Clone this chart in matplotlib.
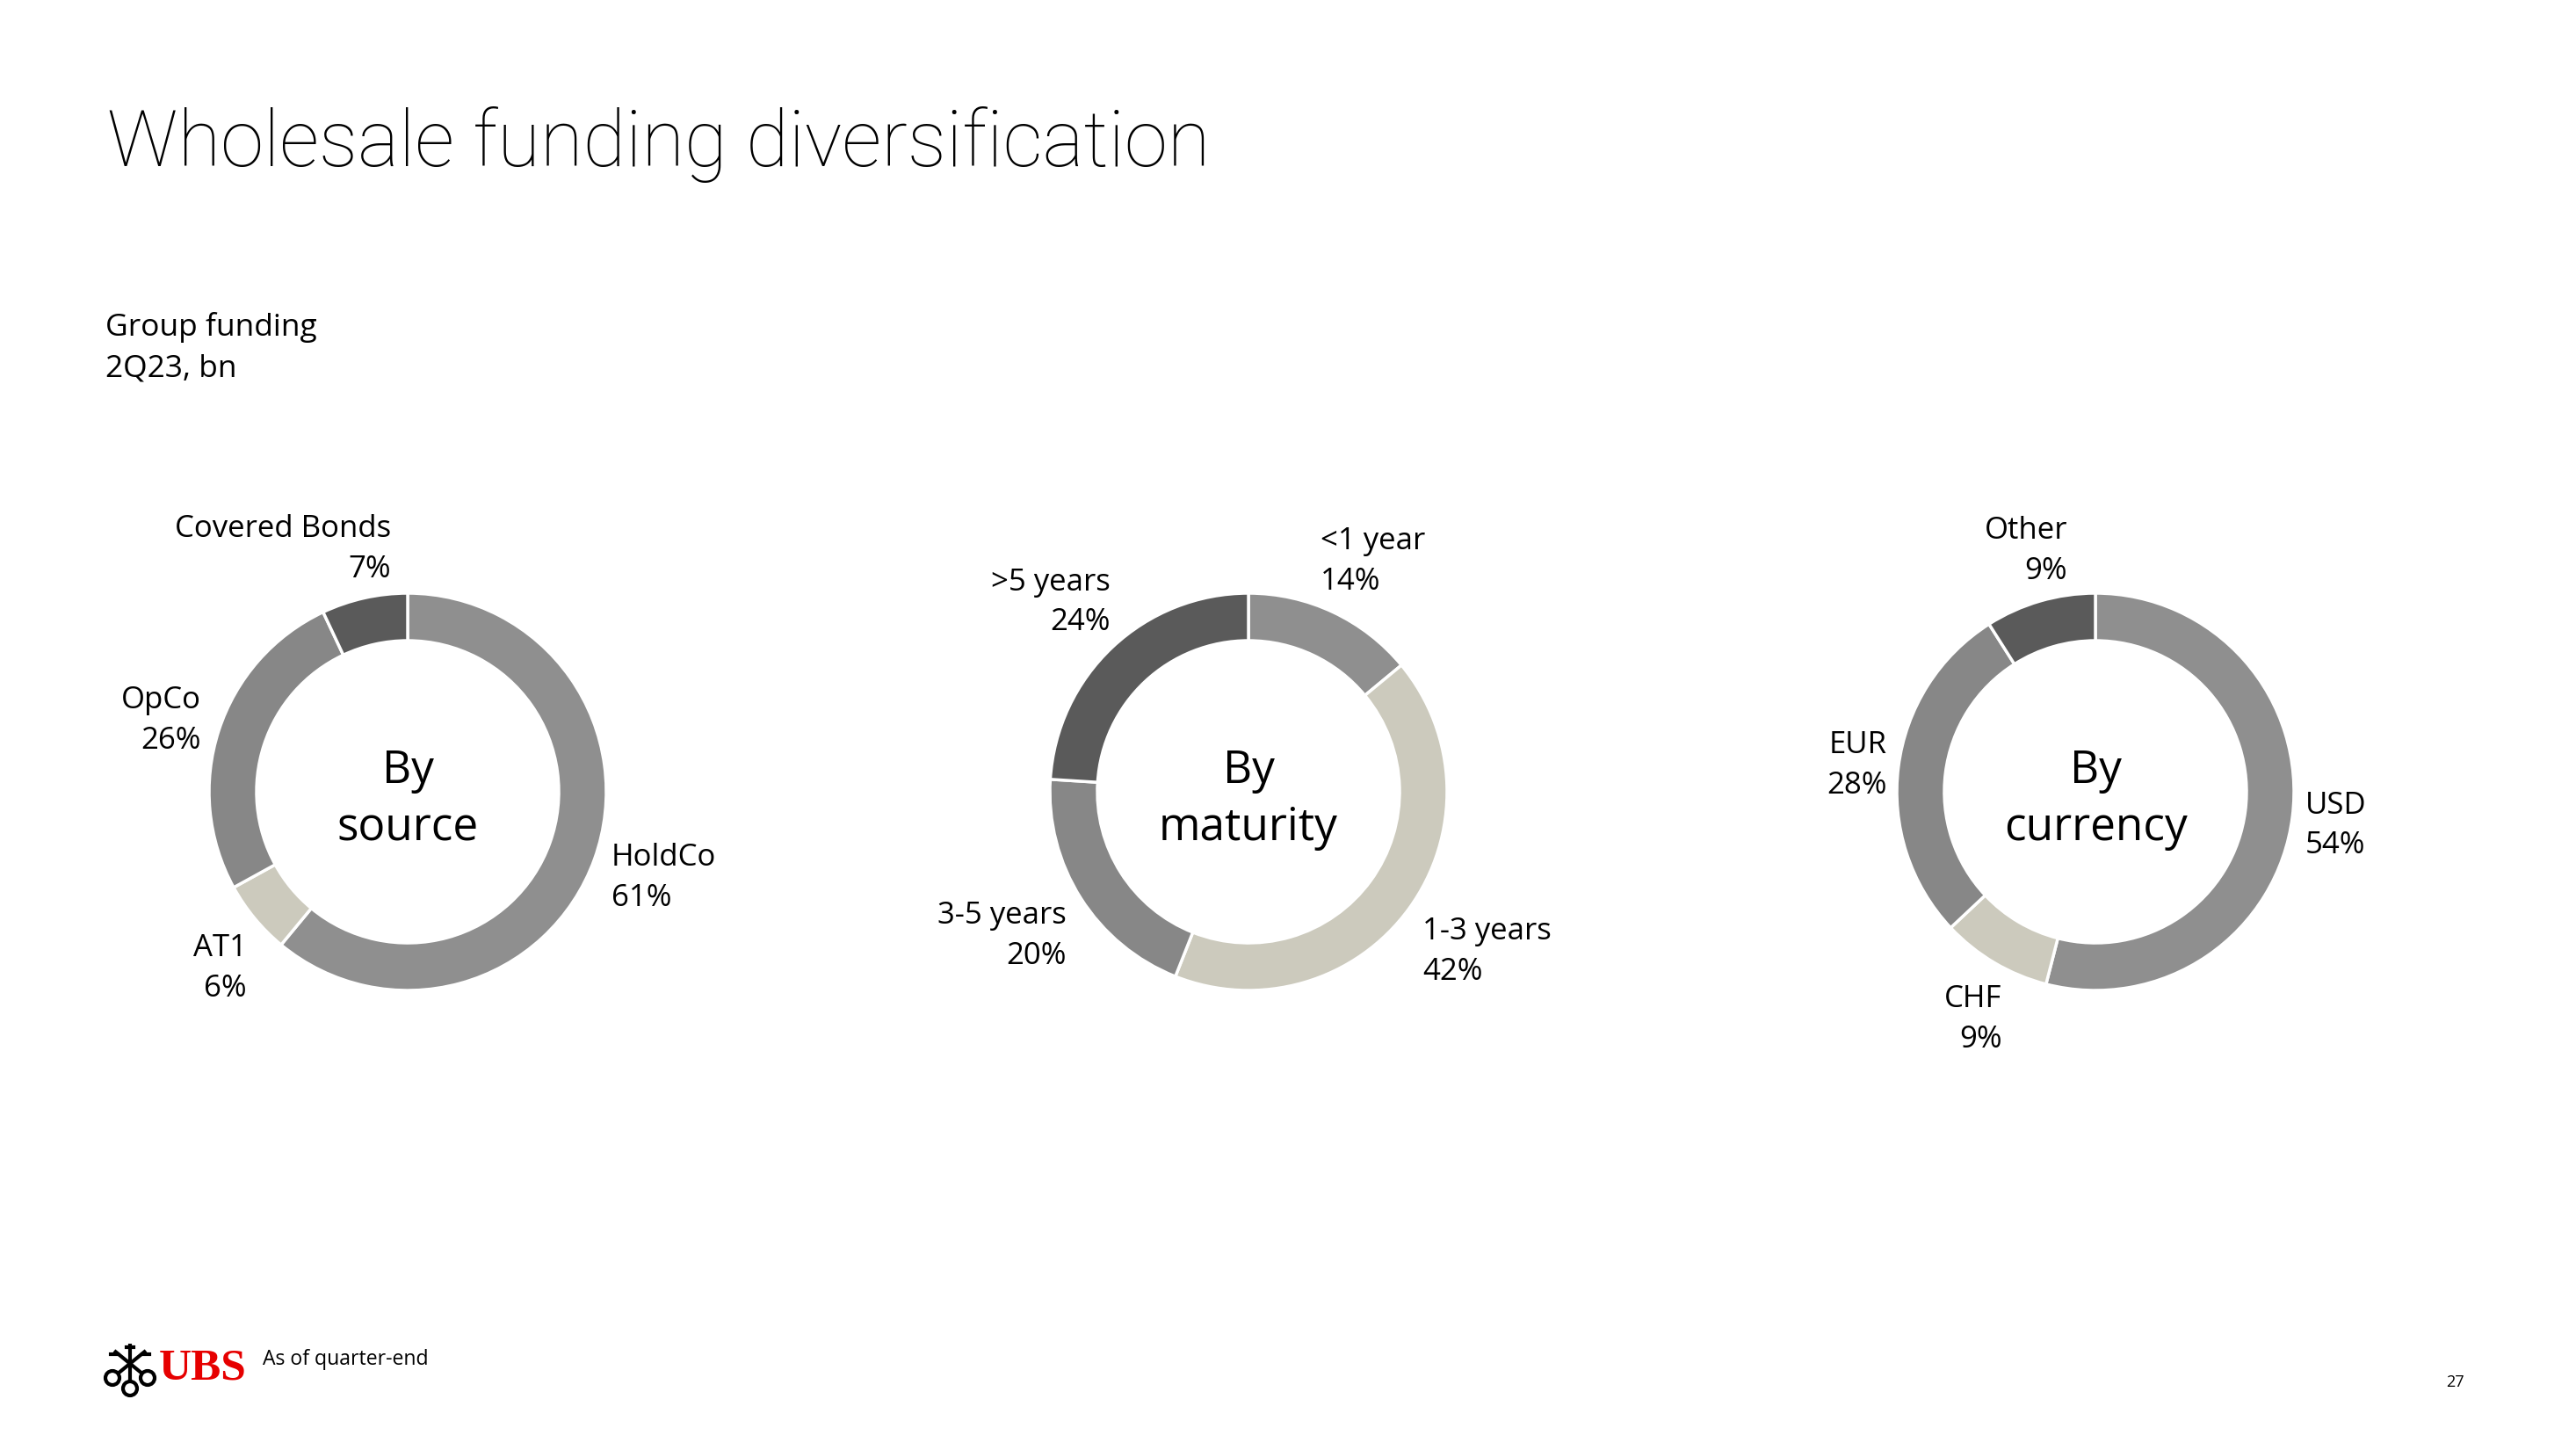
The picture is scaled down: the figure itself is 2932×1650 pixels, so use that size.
import matplotlib
matplotlib.use("Agg")
import matplotlib.pyplot as plt
from matplotlib.patches import Circle

plt.rcParams['font.family'] = ['Open Sans', 'DejaVu Sans']

W, H = 2932, 1650

# data
source_labels = ["HoldCo", "AT1", "OpCo", "Covered Bonds"]
source_values = [61, 6, 26, 7]
maturity_labels = ["<1 year", "1-3 years", "3-5 years", ">5 years"]
maturity_values = [14, 42, 20, 24]
currency_labels = ["USD", "CHF", "EUR", "Other"]
currency_values = [54, 9, 28, 9]
center_titles = ["By\nsource", "By\nmaturity", "By\ncurrency"]

# colours, same order in each donut
slice_colors = ["#8f8f8f", "#cccabd", "#878787", "#5a5a5a"]

# layout (pixels, y measured from the top)
centers = [(464, 901), (1421, 901), (2385, 901)]
R = 226
ring = 54

# label anchors relative to centre, in units of R (x right, y up), alignment
label_pos = [
    [(1.025, -0.42, "left"), (-0.81, -0.876, "right"), (-1.04, 0.372, "right"), (-0.083, 1.236, "right")],
    [(0.364, 1.174, "left"), (0.876, -0.793, "left"), (-0.917, -0.711, "right"), (-0.694, 0.967, "right")],
    [(1.058, -0.157, "left"), (-0.471, -1.132, "right"), (-1.05, 0.145, "right"), (-0.14, 1.227, "right")],
]

fig = plt.figure(figsize=(W / 100, H / 100), dpi=100)
ax = fig.add_axes([0, 0, 1, 1])

groups = [(source_labels, source_values), (maturity_labels, maturity_values),
          (currency_labels, currency_values)]

for i, (labs, vals) in enumerate(groups):
    cx, cy = centers[i]
    cy = H - cy
    ax.pie(vals, colors=slice_colors, startangle=90, counterclock=False,
           center=(cx, cy), radius=R,
           wedgeprops=dict(width=ring, edgecolor="white", linewidth=2.5))
    ax.text(cx, cy - 9, center_titles[i], ha="center", va="center",
            fontsize=37, linespacing=1.38, color="black")
    total = sum(vals)
    for lab, v, (dx, dy, al) in zip(labs, vals, label_pos[i]):
        pct = round(100 * v / total)
        ax.text(cx + dx * R, cy + dy * R - 3, lab + "\n" + str(pct) + "%",
                ha=al, va="center", multialignment=al,
                fontsize=25, linespacing=1.45, color="black")

ax.set_xlim(0, W)
ax.set_ylim(0, H)
ax.set_aspect("auto")
ax.axis("off")

# title and subtitle
ax.text(122, H - 189, "Wholesale funding diversification", ha="left", va="baseline",
        fontsize=64, family=["Roboto", "Open Sans"], weight="light", color="black")
ax.text(120, H - 396, "Group funding\n2Q23, bn", ha="left", va="center",
        fontsize=25.5, linespacing=1.5, color="black")

# footer
ax.text(181, H - 1558, "UBS", ha="left", va="center", fontsize=37,
        family=["Liberation Serif"], weight="bold", color="#e60000")
ax.text(299, H - 1547, "As of quarter-end", ha="left", va="center",
        fontsize=16.6, color="black")
ax.text(2794, H - 1573, "27", ha="center", va="center", fontsize=13, color="black")

# rough key logo
for (x0, y0, x1, y1) in [(128, 1568, 166, 1537), (168, 1568, 130, 1537), (148, 1580, 148, 1529)]:
    ax.plot([x0, x1], [H - y0, H - y1], color="black", lw=3, solid_capstyle="butt")
    ax.plot([x1 - 4, x1 + 4], [H - y1 - 4, H - y1 - 4], color="black", lw=3)
for (bx, by) in [(128, 1568), (168, 1568), (148, 1580)]:
    ax.add_patch(Circle((bx, H - by), 8, facecolor="white", edgecolor="black", lw=3, zorder=3))

fig.savefig("out.png", dpi=100, facecolor="white")
